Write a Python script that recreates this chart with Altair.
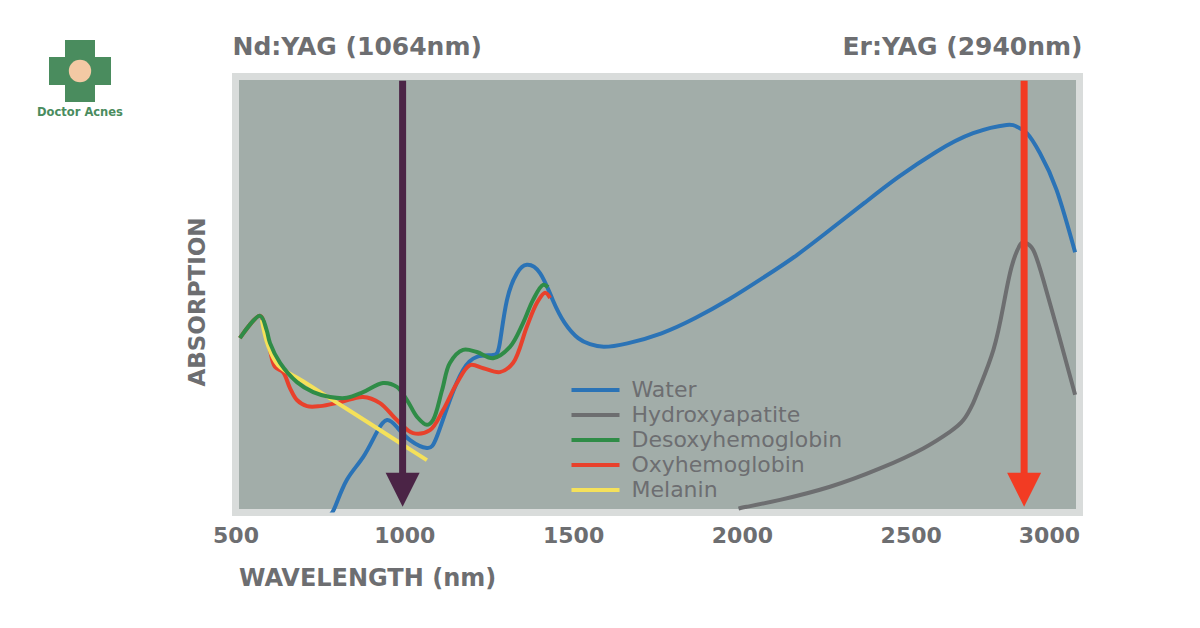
import altair as alt
import pandas as pd

# ---------------- data ----------------
series_names = ["Water", "Hydroxyapatite", "Desoxyhemoglobin", "Oxyhemoglobin", "Melanin"]
series_colors = ["#2b73b6", "#6d6e70", "#2f8c47", "#e8412c", "#f5e15a"]

water_nm = [780, 795, 830, 878, 919, 949, 978, 1017, 1067, 1096, 1135, 1174, 1215, 1263, 1283,
            1304, 1334, 1363, 1402, 1440, 1475, 1515, 1550, 1591, 1661, 1762, 1862, 1962, 2062,
            2162, 2262, 2363, 2463, 2575, 2685, 2784, 2814, 2844, 2883, 2932, 2987]
water_abs = [-0.6, 1.3, 7.5, 12.7, 18.5, 21.2, 19.6, 16.6, 14.8, 17.3, 25.8, 32.7, 35.7, 36.1, 38.9,
             48.7, 54.9, 56.8, 54.9, 48.7, 43.5, 40.0, 38.6, 38.0, 38.8, 41.1, 44.6, 48.9, 53.8,
             59.0, 64.9, 71.0, 76.9, 82.7, 87.0, 88.9, 88.5, 87.0, 82.4, 74.0, 59.7]

hydroxy_nm = [1990, 2014, 2113, 2261, 2409, 2537, 2616, 2656, 2685, 2705, 2745, 2774, 2799, 2824,
              2838, 2863, 2893, 2932, 2987]
hydroxy_abs = [0.9, 1.3, 2.9, 5.9, 10.1, 14.7, 18.5, 21.2, 25.1, 28.9, 37.3, 47.2, 56.4, 61.4,
               61.9, 60.2, 53.3, 42.6, 27.0]

desoxy_nm = [513, 573, 592, 602, 632, 682, 730, 780, 830, 878, 937, 978, 1008, 1038, 1067, 1085,
             1112, 1135, 1174, 1215, 1263, 1313, 1352, 1381, 1411, 1426]
desoxy_abs = [40.0, 45.1, 41.9, 38.9, 34.3, 29.9, 27.6, 26.5, 26.3, 27.6, 29.7, 28.8, 25.8, 21.9, 20.1, 21.2,
              28.1, 34.3, 37.3, 36.8, 35.4, 38.0, 43.5, 48.7, 52.2, 51.7]

oxy_nm = [513, 573, 590, 602, 617, 641, 661, 682, 712, 750, 810, 878, 928, 978, 1026, 1076, 1115,
          1156, 1195, 1234, 1283, 1322, 1363, 1393, 1417, 1432]
oxy_abs = [40.0, 45.1, 41.5, 37.3, 33.4, 32.2, 28.6, 25.8, 24.4, 24.4, 25.3, 26.5, 25.1, 21.2, 18.2, 18.9, 23.5,
           29.7, 33.8, 33.1, 32.2, 34.3, 42.6, 48.1, 50.4, 49.2]

melanin_nm = [578, 596, 626, 700, 800, 900, 1000, 1067]
melanin_abs = [44.2, 38.4, 33.8, 30.1, 25.2, 20.3, 15.3, 12.0]

laser_nm = [995, 2836]
laser_colors = ["#4b2446", "#f23b23"]
arrow_top = [99.0, 99.0]
arrow_end = [7.5, 7.5]
arrow_head = [5.2, 5.2]

top_labels = ["Nd:YAG (1064nm)", "Er:YAG (2940nm)"]
top_label_nm = [500, 3000]
x_ticks = [500, 1000, 1500, 2000, 2500, 3000]

TEXT = "#6d6e71"
FONT = "DejaVu Sans"

# ---------------- tables ----------------
frames = []
for name, xs, ys in [("Water", water_nm, water_abs),
                     ("Hydroxyapatite", hydroxy_nm, hydroxy_abs),
                     ("Desoxyhemoglobin", desoxy_nm, desoxy_abs),
                     ("Oxyhemoglobin", oxy_nm, oxy_abs),
                     ("Melanin", melanin_nm, melanin_abs)]:
    frames.append(pd.DataFrame({"series": name, "nm": xs, "abs": ys}))
curves = pd.concat(frames, ignore_index=True)

arrows = pd.DataFrame({"nm": laser_nm, "top": arrow_top, "end": arrow_end,
                       "head": arrow_head, "col": laser_colors})
tops = pd.DataFrame({"nm": top_label_nm, "label": top_labels})

xscale = alt.Scale(domain=[500, 3000], nice=False, zero=False)
yscale = alt.Scale(domain=[0, 100], nice=False, zero=False)

x_axis = alt.Axis(values=x_ticks, format="d", title="WAVELENGTH (nm)", grid=False, ticks=False, domain=False,
                  labelFontSize=22, labelFontWeight="bold", labelColor=TEXT, labelFont=FONT,
                  labelPadding=13, labelFlush=False,
                  labelAlign={"condition": {"test": "datum.value >= 3000", "value": "right"}, "value": "center"},
                  titleFontSize=24, titleFontWeight="bold", titleColor=TEXT, titleFont=FONT,
                  titleAlign="left", titleAnchor="start", titleX=3, titleY=54, titleBaseline="top")
y_axis = alt.Axis(title="ABSORPTION", labels=False, ticks=False, domain=False, grid=False,
                  titleFontSize=23, titleFontWeight="bold", titleColor=TEXT, titleFont=FONT,
                  titlePadding=26, titleY=225)

X = lambda f: alt.X(f, scale=xscale, axis=x_axis)
Y = lambda f: alt.Y(f, scale=yscale, axis=y_axis)

legend = alt.Legend(orient="none", legendX=334, legendY=302.5, title=None,
                    symbolType="stroke", symbolSize=2304, symbolStrokeWidth=4,
                    clipHeight=22, rowPadding=3, padding=0, labelOffset=10, labelLimit=400,
                    labelFontSize=22, labelColor=TEXT, labelFont=FONT)
color = alt.Color("series:N", scale=alt.Scale(domain=series_names, range=series_colors), legend=legend)

base = alt.Chart(curves)
draw_order = ["Water", "Hydroxyapatite", "Oxyhemoglobin", "Melanin", "Desoxyhemoglobin"]
smooth = {"Water": "natural", "Hydroxyapatite": "natural"}
line_layers = []
for name in draw_order:
    line_layers.append(
        base.transform_filter(alt.datum.series == name)
        .mark_line(strokeWidth=4, interpolate=smooth.get(name, "catmull-rom"), clip=True)
        .encode(x=X("nm:Q"), y=Y("abs:Q"), color=color)
    )

arrow_layers = []
for i in range(len(laser_nm)):
    a = alt.Chart(arrows.iloc[[i]])
    arrow_layers.append(a.mark_rule(color=laser_colors[i], strokeWidth=7).encode(
        x=X("nm:Q"), y=Y("top:Q"), y2="end:Q"))
    arrow_layers.append(a.mark_point(shape="M-1,-1L1,-1L0,1Z", size=1156, filled=True, opacity=1,
                                     color=laser_colors[i]).encode(x=X("nm:Q"), y=Y("head:Q")))

top_left = alt.Chart(tops.iloc[[0]]).mark_text(align="left", baseline="alphabetic", fontSize=25,
                                               fontWeight="bold", font=FONT, color=TEXT, dx=-3).encode(
    x=X("nm:Q"), y=alt.value(-22), text="label:N")
top_right = alt.Chart(tops.iloc[[1]]).mark_text(align="right", baseline="alphabetic", fontSize=25,
                                                fontWeight="bold", font=FONT, color=TEXT, dx=3).encode(
    x=X("nm:Q"), y=alt.value(-22), text="label:N")

# small brand mark at top-left
brand = pd.DataFrame({"t": ["Doctor Acnes"]})
cross_v = alt.Chart(brand).mark_rect(color="#4a8c5e").encode(
    x=alt.value(-170.5), x2=alt.value(-140.5), y=alt.value(-36.5), y2=alt.value(25.5))
cross_h = alt.Chart(brand).mark_rect(color="#4a8c5e").encode(
    x=alt.value(-186.5), x2=alt.value(-124.5), y=alt.value(-19.5), y2=alt.value(8.5))
face = alt.Chart(brand).mark_point(shape="circle", size=500, filled=True, opacity=1, color="#f3c9a4").encode(
    x=alt.value(-155.5), y=alt.value(-5.5))
brand_text = alt.Chart(brand).mark_text(fontSize=11.5, fontWeight="bold", font=FONT, color="#4a8c5e").encode(
    x=alt.value(-155.5), y=alt.value(36), text="t:N")

chart = alt.layer(*line_layers, *arrow_layers, top_left, top_right, cross_v, cross_h, face, brand_text).properties(
    width=844, height=436,
    autosize=alt.AutoSizeParams(type="none"),
    padding={"left": 227.5, "top": 68.5, "right": 100, "bottom": 90},
    background="white",
).configure_view(fill="#a2ada9", stroke="#d9dcdb", strokeWidth=7)

chart.save("out.html", embed_options={"renderer": "svg", "actions": False})
